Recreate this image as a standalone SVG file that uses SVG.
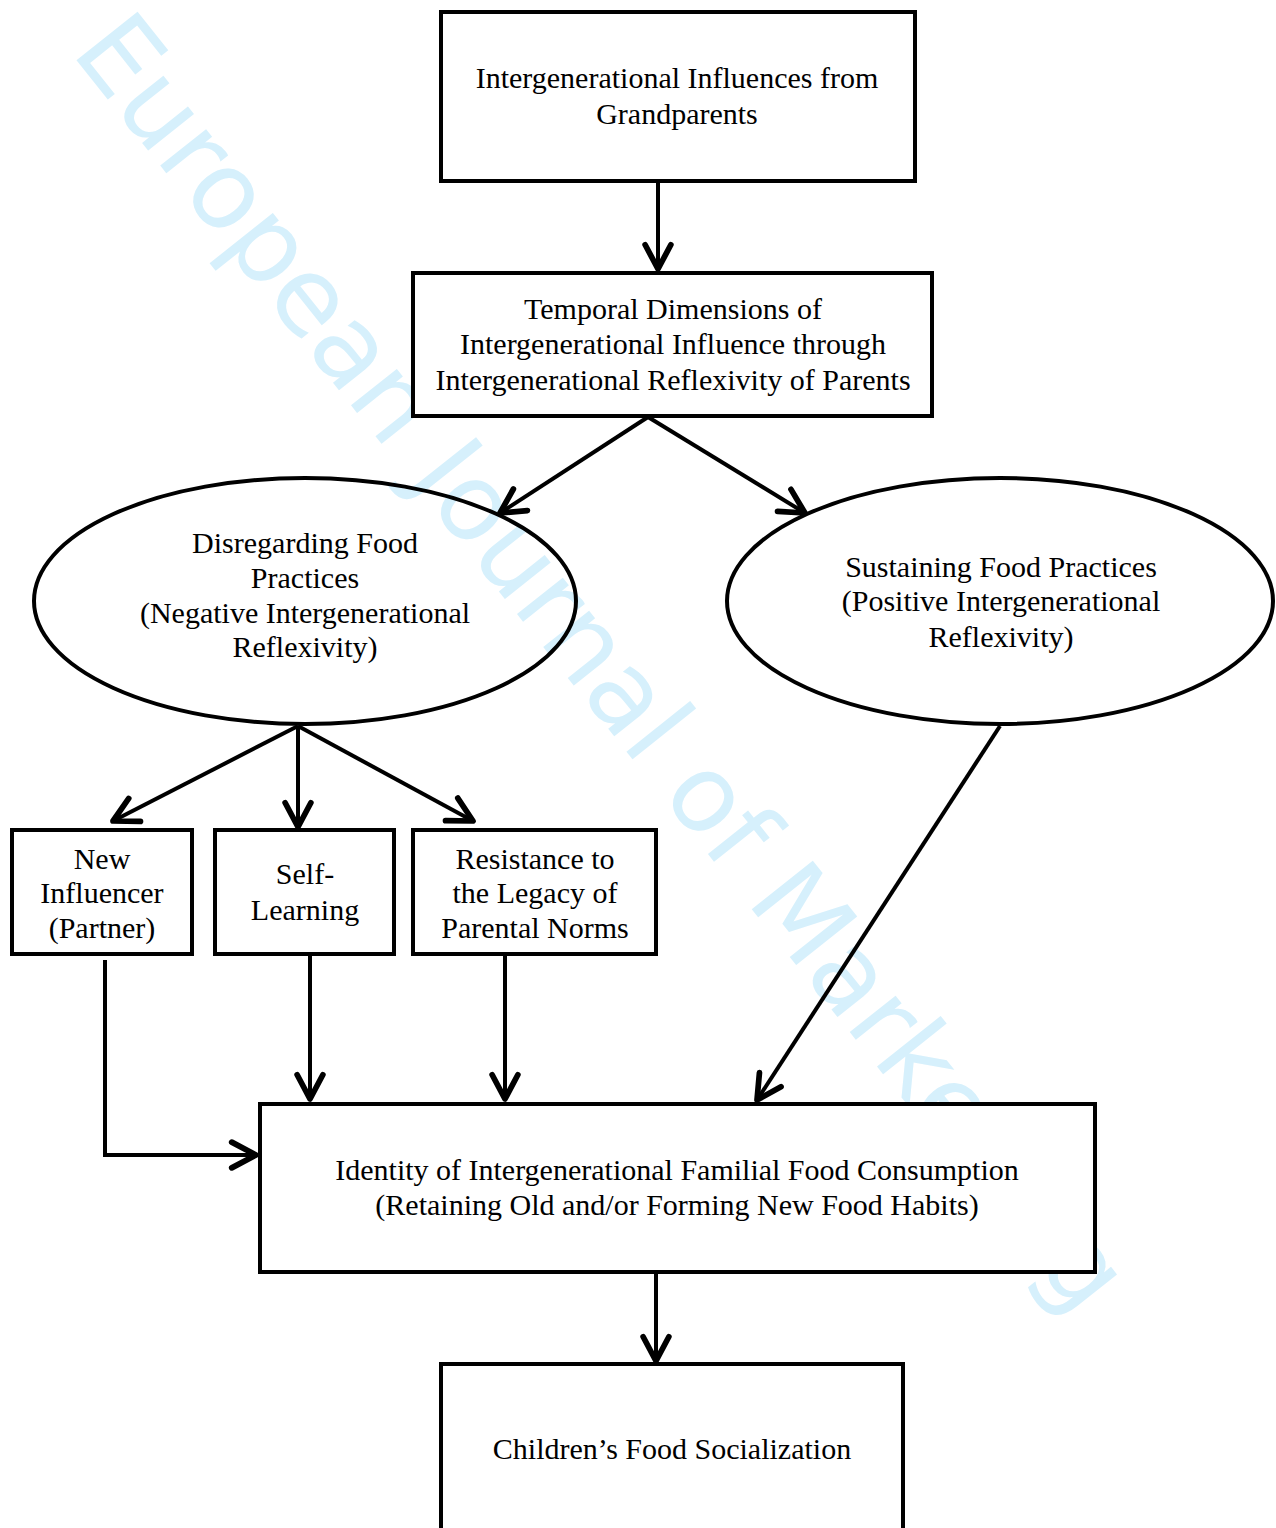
<svg xmlns="http://www.w3.org/2000/svg" width="1276" height="1528" viewBox="0 0 1276 1528">
<style>
.box{fill:#fff;stroke:#000;stroke-width:4}
.ell{fill:none;stroke:#000;stroke-width:4}
.c{fill:none;stroke:#000;stroke-width:4;marker-end:url(#ah)}
.t{font-family:"Liberation Serif","Times New Roman",serif;font-size:30px;fill:#000;text-anchor:middle}
.wm{font-family:"DejaVu Sans",sans-serif;font-size:107px;fill:#d6f0fc}
</style>
<defs>
<marker id="ah" markerUnits="userSpaceOnUse" markerWidth="40" markerHeight="40" refX="0" refY="0" viewBox="-22 -14 26 28" orient="auto" overflow="visible">
<path d="M-17,-9 L0,0 L-17,9" fill="none" stroke="#000" stroke-width="4" stroke-linejoin="round" stroke-linecap="round"/>
</marker>
</defs>
<rect width="1276" height="1528" fill="#fff"/>
<text class="wm" transform="translate(70,52) rotate(51.5)">European Journal of Marketing</text>
<g id="connectors">
<path class="c" d="M658,181 L658,269"/>
<path class="c" d="M648,417 L500,513"/>
<path class="c" d="M648,417 L805,513"/>
<path class="c" d="M298,726 L113,821"/>
<path class="c" d="M298,726 L298,827"/>
<path class="c" d="M298,726 L473,821"/>
<path class="c" d="M105,960 L105,1155 L256,1155"/>
<path class="c" d="M310,954 L310,1099"/>
<path class="c" d="M505,954 L505,1099"/>
<path class="c" d="M1000,726 L757,1100"/>
<path class="c" d="M656,1272 L656,1361"/>
</g>
<g id="grandparents">
<rect class="box" x="441" y="12" width="474" height="169"/>
<text class="t" x="677" y="88">Intergenerational Influences from</text>
<text class="t" x="677" y="124">Grandparents</text>
</g>
<g id="temporal">
<rect class="box" x="413" y="273" width="519" height="143"/>
<text class="t" x="673" y="319">Temporal Dimensions of</text>
<text class="t" x="673" y="354">Intergenerational Influence through</text>
<text class="t" x="673" y="390">Intergenerational Reflexivity of Parents</text>
</g>
<g id="disregarding">
<ellipse class="ell" cx="305" cy="601" rx="271" ry="123"/>
<text class="t" x="305" y="553">Disregarding Food</text>
<text class="t" x="305" y="588">Practices</text>
<text class="t" x="305" y="623">(Negative Intergenerational</text>
<text class="t" x="305" y="657">Reflexivity)</text>
</g>
<g id="sustaining">
<ellipse class="ell" cx="1000" cy="601" rx="273" ry="123"/>
<text class="t" x="1001" y="577">Sustaining Food Practices</text>
<text class="t" x="1001" y="611">(Positive Intergenerational</text>
<text class="t" x="1001" y="647">Reflexivity)</text>
</g>
<g id="partner">
<rect class="box" x="12" y="830" width="180" height="124"/>
<text class="t" x="102" y="869">New</text>
<text class="t" x="102" y="903">Influencer</text>
<text class="t" x="102" y="938">(Partner)</text>
</g>
<g id="selflearning">
<rect class="box" x="215" y="830" width="179" height="124"/>
<text class="t" x="305" y="884">Self-</text>
<text class="t" x="305" y="920">Learning</text>
</g>
<g id="resistance">
<rect class="box" x="413" y="830" width="243" height="124"/>
<text class="t" x="535" y="869">Resistance to</text>
<text class="t" x="535" y="903">the Legacy of</text>
<text class="t" x="535" y="938">Parental Norms</text>
</g>
<g id="identity">
<rect class="box" x="260" y="1104" width="835" height="168"/>
<text class="t" x="677" y="1180">Identity of Intergenerational Familial Food Consumption</text>
<text class="t" x="677" y="1215">(Retaining Old and/or Forming New Food Habits)</text>
</g>
<g id="children">
<rect class="box" x="441" y="1364" width="462" height="200"/>
<text class="t" x="672" y="1459">Children’s Food Socialization</text>
</g>
</svg>
